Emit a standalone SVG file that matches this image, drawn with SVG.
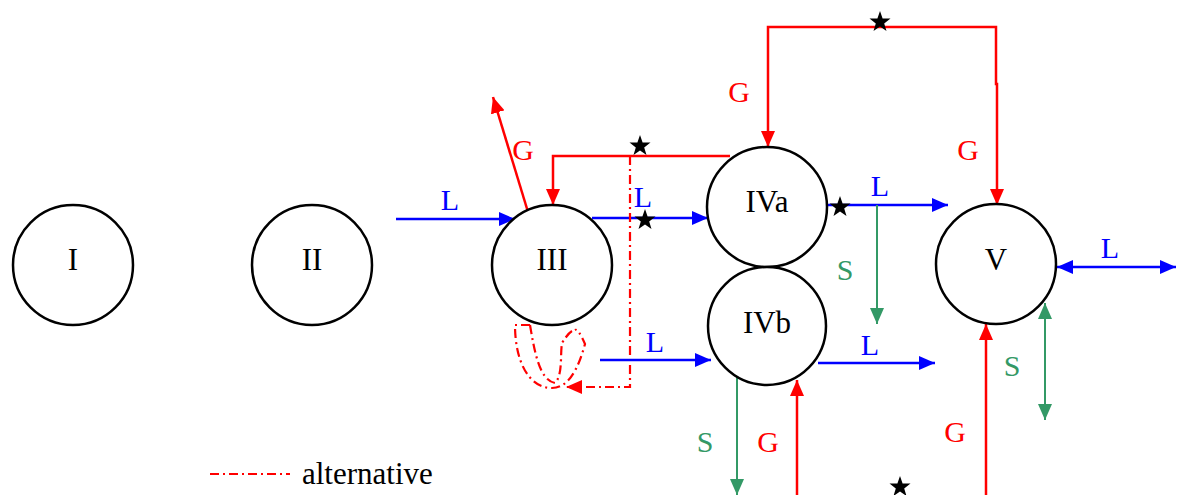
<svg xmlns="http://www.w3.org/2000/svg" width="1185" height="495" viewBox="0 0 1185 495">
<style>
.node{fill:#fff;stroke:#000;stroke-width:2.5}
.nl{font-family:"Liberation Serif","Times New Roman",serif;font-size:31px;fill:#000;text-anchor:middle}
.el{font-family:"Liberation Serif","Times New Roman",serif;font-size:30px;text-anchor:middle}
.lg{font-family:"Liberation Serif","Times New Roman",serif;font-size:31px;fill:#000}
.r{stroke:#f00;fill:none;stroke-width:2.5}
.b{stroke:#00f;fill:none;stroke-width:2.5}
.g{stroke:#339966;fill:none;stroke-width:2}
.dd{stroke:#f00;fill:none;stroke-width:2.2;stroke-dasharray:9,4,2,4}
.tr{fill:#f00}.tb{fill:#00f}.tg{fill:#339966}
</style>
<defs>
<marker id="ar" markerUnits="userSpaceOnUse" markerWidth="18" markerHeight="14" refX="16" refY="7" orient="auto-start-reverse"><path d="M0,0L16,7L0,14Z" fill="#f00"/></marker>
<marker id="ab" markerUnits="userSpaceOnUse" markerWidth="18" markerHeight="14" refX="16" refY="7" orient="auto-start-reverse"><path d="M0,0L16,7L0,14Z" fill="#00f"/></marker>
<marker id="ag" markerUnits="userSpaceOnUse" markerWidth="18" markerHeight="14" refX="16" refY="7" orient="auto-start-reverse"><path d="M0,0L16,7L0,14Z" fill="#339966"/></marker>
<polygon id="star" points="0,-11 2.6,-3.6 10.5,-3.4 4.2,1.4 6.5,9 0,4.5 -6.5,9 -4.2,1.4 -10.5,-3.4 -2.6,-3.6"/>
</defs>
<g id="connectors">
<line class="b" x1="396" y1="219" x2="515" y2="219" marker-end="url(#ab)"/>
<line class="r" x1="528" y1="212" x2="493" y2="97" marker-end="url(#ar)"/>
<polyline class="r" points="730,156 553,156 553,205" marker-end="url(#ar)"/>
<line class="b" x1="592" y1="218" x2="708" y2="218" marker-end="url(#ab)"/>
<polyline class="dd" points="630,156 630,387 566,387" marker-end="url(#ar)"/>
<path class="dd" d="M530,325 L515,325 C515,360 528,388 552,388 C568,388 578,370 585,344 Q578,328 575,330"/>
<path class="dd" d="M530,325 C535,355 540,380 555,383 C563,375 560,355 562,343 Q570,330 575,330"/>
<line class="b" x1="600" y1="360" x2="711" y2="360" marker-end="url(#ab)"/>
<line class="b" x1="827" y1="205" x2="948" y2="205" marker-end="url(#ab)"/>
<line class="g" x1="877" y1="205" x2="877" y2="324" marker-end="url(#ag)"/>
<polyline class="r" points="768,147 768,27 996,27 996,84 997,84 997,205" marker-start="url(#ar)" marker-end="url(#ar)"/>
<line class="b" x1="818" y1="363" x2="935" y2="363" marker-end="url(#ab)"/>
<line class="g" x1="737" y1="377" x2="737" y2="495" marker-end="url(#ag)"/>
<line class="r" x1="797" y1="495" x2="797" y2="380" marker-end="url(#ar)"/>
<line class="r" x1="986" y1="495" x2="986" y2="324" marker-end="url(#ar)"/>
<line class="g" x1="1045" y1="303" x2="1045" y2="420" marker-start="url(#ag)" marker-end="url(#ag)"/>
<line class="b" x1="1057" y1="267" x2="1176" y2="267" marker-start="url(#ab)" marker-end="url(#ab)"/>
<use href="#star" x="640" y="146"/>
<use href="#star" x="645" y="220"/>
<use href="#star" x="840" y="207"/>
<use href="#star" x="880" y="22"/>
<use href="#star" x="900" y="487"/>
<text class="el tb" x="450" y="210">L</text>
<text class="el tr" x="523" y="160">G</text>
<text class="el tb" x="643" y="207">L</text>
<text class="el tb" x="655" y="352">L</text>
<text class="el tb" x="880" y="196">L</text>
<text class="el tg" x="845" y="280">S</text>
<text class="el tr" x="739" y="102">G</text>
<text class="el tr" x="968" y="160">G</text>
<text class="el tb" x="870" y="355">L</text>
<text class="el tg" x="705" y="452">S</text>
<text class="el tr" x="768" y="452">G</text>
<text class="el tr" x="955" y="442">G</text>
<text class="el tg" x="1012" y="376">S</text>
<text class="el tb" x="1110" y="258">L</text>
</g>
<g id="I"><circle class="node" cx="73" cy="265" r="60"/><text class="nl" x="73" y="270">I</text></g>
<g id="II"><circle class="node" cx="312" cy="265" r="60"/><text class="nl" x="312" y="270">II</text></g>
<g id="III"><circle class="node" cx="552" cy="265" r="60"/><text class="nl" x="552" y="270">III</text></g>
<g id="IVa"><circle class="node" cx="767" cy="207" r="60"/><text class="nl" x="767" y="212">IVa</text></g>
<g id="IVb"><circle class="node" cx="767" cy="326" r="59"/><text class="nl" x="767" y="333">IVb</text></g>
<g id="V"><circle class="node" cx="996" cy="264" r="60"/><text class="nl" x="996" y="270">V</text></g>
<g id="legend">
<line class="dd" x1="210" y1="474" x2="290" y2="474"/>
<text class="lg" x="302" y="484">alternative</text>
</g>
</svg>
